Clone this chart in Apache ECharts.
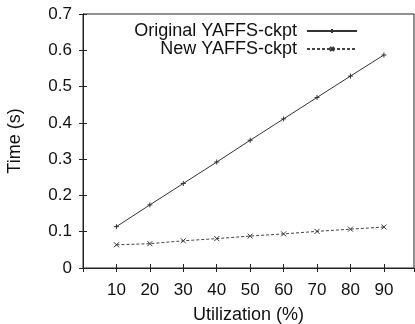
<!DOCTYPE html>
<html><head><meta charset="utf-8">
<script src="https://cdn.jsdelivr.net/npm/echarts@6/dist/echarts.min.js"></script>
<style>html,body{margin:0;padding:0;background:#fff}#c{width:415px;height:324px}</style>
</head><body><div id="c"></div>
<script>
var utilization = [10, 20, 30, 40, 50, 60, 70, 80, 90];
var originalCkpt = [0.114, 0.174, 0.233, 0.292, 0.352, 0.411, 0.470, 0.529, 0.587];
var newCkpt = [0.064, 0.067, 0.075, 0.081, 0.088, 0.094, 0.101, 0.107, 0.113];
var seriesNames = ['Original YAFFS-ckpt', 'New YAFFS-ckpt'];
var xTitle = 'Utilization (%)';
var yTitle = 'Time (s)';

var FONT = '"Liberation Sans", Arial, Helvetica, sans-serif';
var INK = '#222';
function pairs(xs, ys){ return xs.map(function(x,i){ return [x, ys[i]]; }); }
var plusPath = 'path://M5,0L5,10M0,5L10,5';
var crossPath = 'path://M0,0L10,10M10,0L0,10';

var chart = echarts.init(document.getElementById('c'), null, {renderer:'canvas'});
var tickStyle = {show:true, inside:true, length:4, lineStyle:{color:INK, width:1}};
chart.setOption({
  animation:false,
  backgroundColor:'#fff',
  grid:{left:83, right:1, top:14, bottom:56, show:true, borderColor:INK, borderWidth:1,
        backgroundColor:'transparent', containLabel:false, outerBoundsMode:'none'},
  legend:{
    orient:'vertical', right:52, top:17, align:'right',
    itemWidth:50, itemHeight:5, itemGap:0,
    textStyle:{fontFamily:FONT, fontSize:18, lineHeight:16, color:'#111', padding:[0,5,0,0]},
    data:seriesNames
  },
  xAxis:[{
    type:'value', min:0, max:99, interval:10,
    axisLine:{show:true, lineStyle:{color:INK}},
    axisTick:tickStyle,
    splitLine:{show:false},
    axisLabel:{fontFamily:FONT, fontSize:17, color:'#111', margin:14,
      showMaxLabel:false,
      formatter:function(v){ return (v>=10 && v<=90) ? String(v) : ''; }},
    name:xTitle, nameLocation:'middle', nameGap:38,
    nameTextStyle:{fontFamily:FONT, fontSize:18, color:'#111'}
  },{
    type:'value', position:'top', min:0, max:99, interval:10,
    axisLine:{show:true, lineStyle:{color:INK}},
    axisTick:tickStyle, axisLabel:{show:false}, splitLine:{show:false}
  }],
  yAxis:[{
    type:'value', min:0, max:0.7, interval:0.1,
    axisLine:{show:true, lineStyle:{color:INK}},
    axisTick:tickStyle,
    splitLine:{show:false},
    axisLabel:{fontFamily:FONT, fontSize:17, color:'#111', margin:11,
      formatter:function(v){ return v===0 ? '0' : v.toFixed(1); }},
    name:yTitle, nameLocation:'middle', nameGap:59, nameRotate:90,
    nameTextStyle:{fontFamily:FONT, fontSize:18, color:'#111'}
  },{
    type:'value', position:'right', min:0, max:0.7, interval:0.1,
    axisLine:{show:true, lineStyle:{color:INK}},
    axisTick:tickStyle, axisLabel:{show:false}, splitLine:{show:false}
  }],
  series:[{
    name:seriesNames[0], type:'line', data:pairs(utilization, originalCkpt),
    symbol:plusPath, symbolSize:5, showSymbol:true,
    lineStyle:{color:'#333', width:1, type:'solid'},
    itemStyle:{color:'transparent', borderColor:'#333', borderWidth:1}
  },{
    name:seriesNames[1], type:'line', data:pairs(utilization, newCkpt),
    symbol:crossPath, symbolSize:5, showSymbol:true,
    lineStyle:{color:'#444', width:1, type:[3,2]},
    itemStyle:{color:'transparent', borderColor:'#333', borderWidth:1}
  }]
});
</script></body></html>
